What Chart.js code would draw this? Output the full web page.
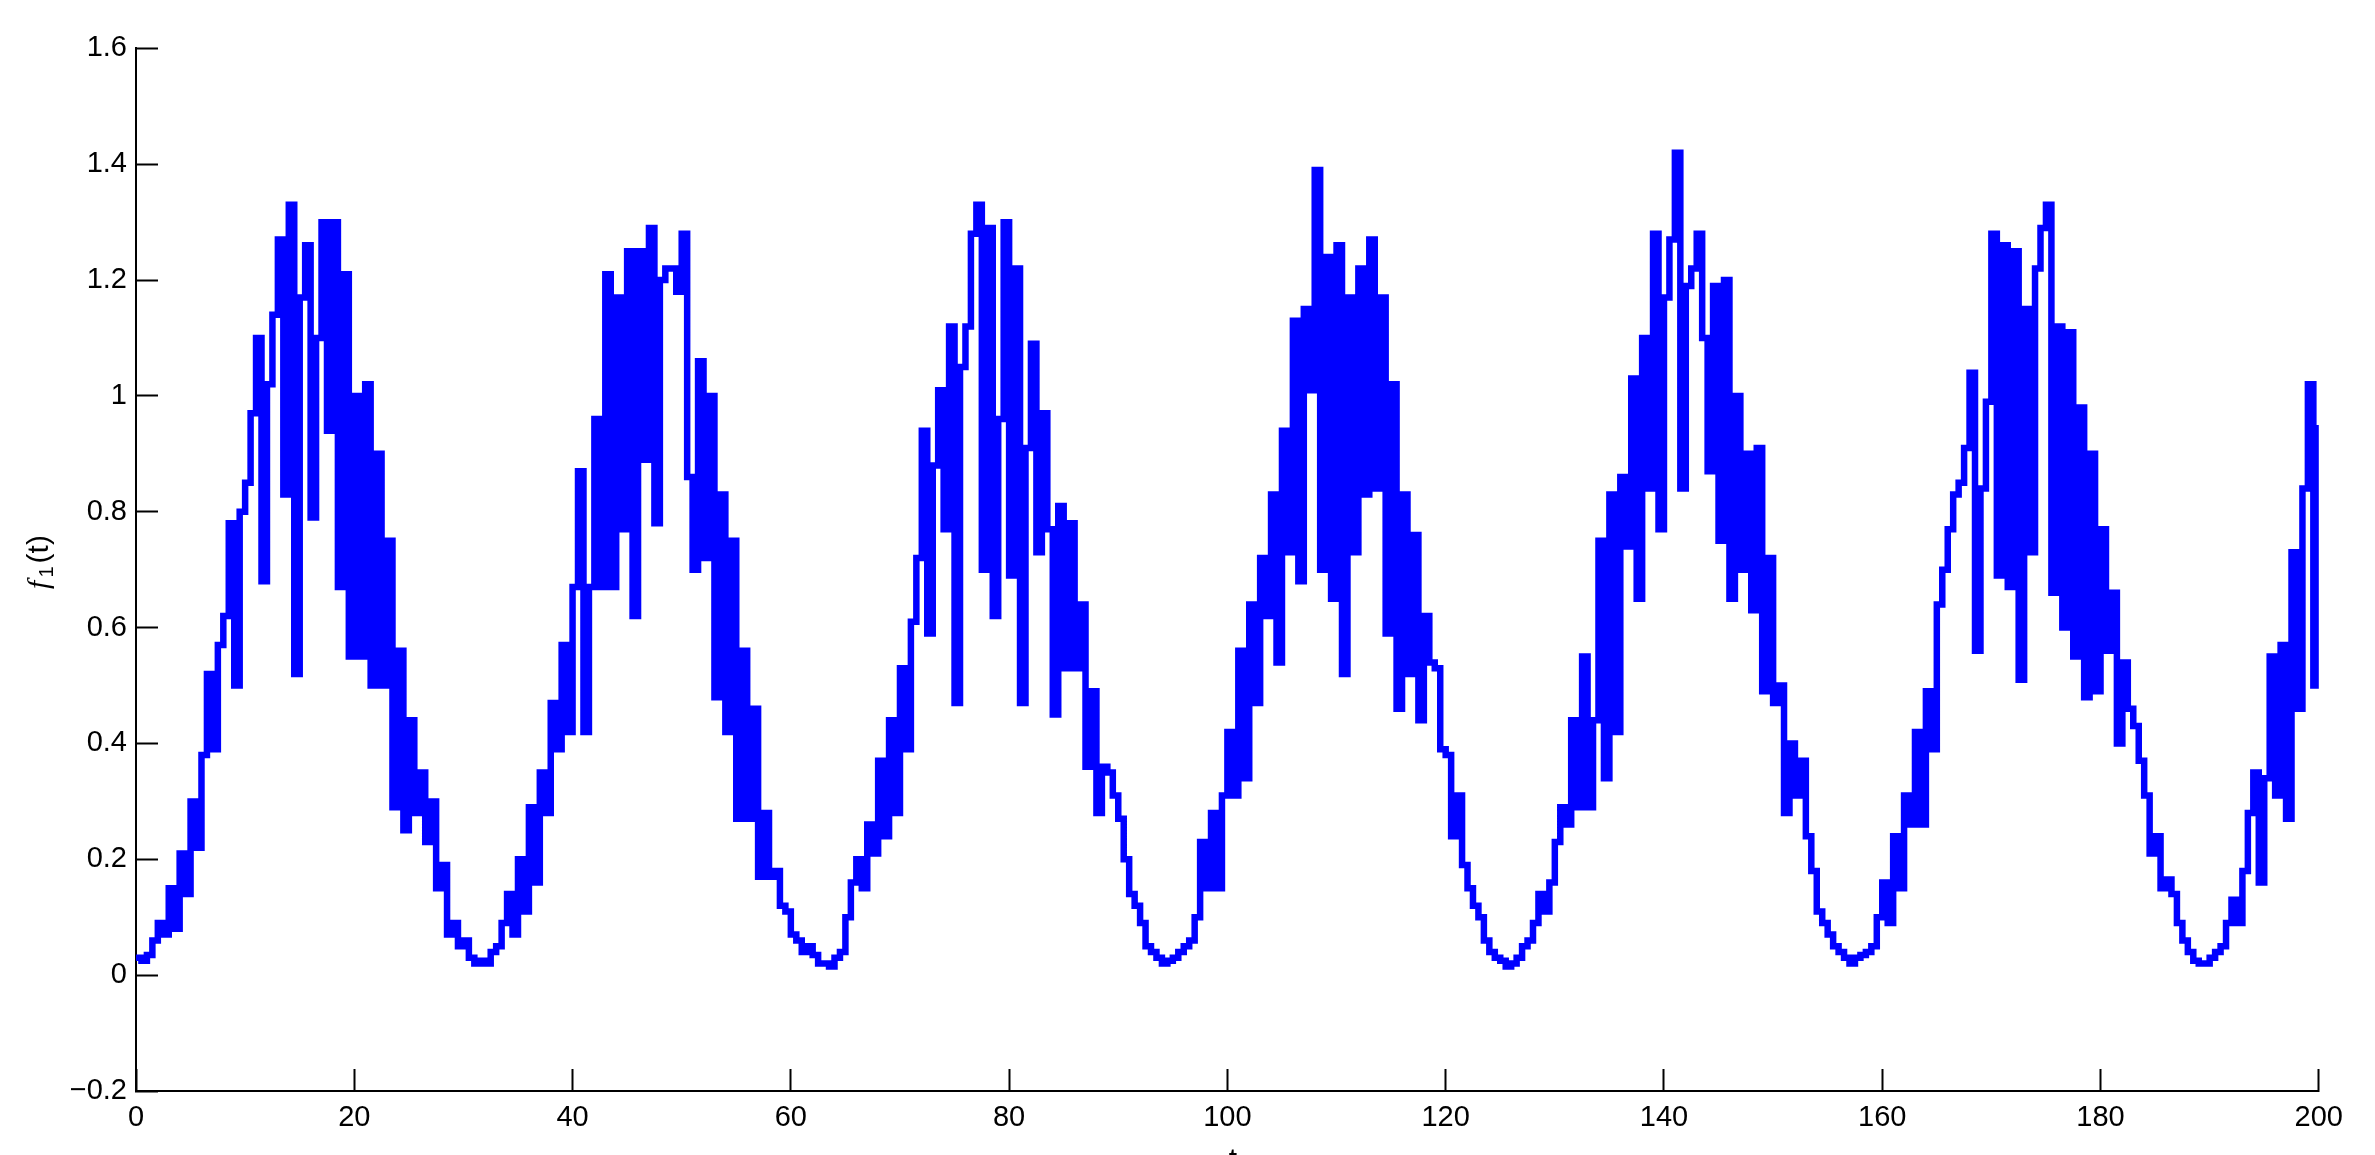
<!DOCTYPE html>
<html lang="en">
<head>
  <meta charset="UTF-8">
  <title>f1(t)</title>
  <script src="https://cdn.jsdelivr.net/npm/chart.js"></script>
  <style>
    html, body { margin: 0; padding: 0; background: #fff; }
    #wrap { width: 2375px; height: 1155px; position: relative; }
  </style>
</head>
<body>
  <div id="wrap"><canvas id="grafica"></canvas></div>

  <script>
    // f_1(t), one value every 0.5 in t (stairs)
    const tStep = 0.5;

    // t = 0 .. 33.5
    const seg1 = [0.03, 0.025, 0.035, 0.06, 0.09, 0.07, 0.15, 0.08, 0.21, 0.14,
                  0.30, 0.22, 0.38, 0.52, 0.39, 0.57, 0.62, 0.78, 0.50, 0.80,
                  0.85, 0.97, 1.10, 0.68, 1.02, 1.14, 1.27, 0.83, 1.33, 0.52,
                  1.17, 1.26, 0.79, 1.10, 1.30, 0.94, 1.30, 0.67, 1.21, 0.55,
                  1.00, 0.55, 1.02, 0.50, 0.90, 0.50, 0.75, 0.29, 0.56, 0.25,
                  0.44, 0.28, 0.35, 0.23, 0.30, 0.15, 0.19, 0.07, 0.09, 0.05,
                  0.06, 0.03, 0.02, 0.025, 0.02, 0.04, 0.05, 0.09];
    // t = 34 .. 67
    const seg2 = [0.14, 0.07, 0.20, 0.11, 0.29, 0.16, 0.35, 0.28, 0.47, 0.39,
                  0.57, 0.42, 0.67, 0.87, 0.42, 0.67, 0.96, 0.67, 1.21, 0.67,
                  1.17, 0.77, 1.25, 0.62, 1.25, 0.89, 1.29, 0.78, 1.20, 1.22,
                  1.22, 1.18, 1.28, 0.86, 0.70, 1.06, 0.72, 1.00, 0.48, 0.83,
                  0.42, 0.75, 0.27, 0.56, 0.27, 0.46, 0.17, 0.28, 0.17, 0.18,
                  0.12, 0.11, 0.07, 0.06, 0.04, 0.05, 0.035, 0.02, 0.02, 0.015,
                  0.03, 0.04, 0.10, 0.16, 0.20, 0.15, 0.26];
    // t = 67.5 .. 100
    const seg3 = [0.21, 0.37, 0.24, 0.44, 0.28, 0.53, 0.39, 0.61, 0.72, 0.94,
                  0.59, 0.88, 1.01, 0.77, 1.12, 0.47, 1.05, 1.12, 1.28, 1.33,
                  0.70, 1.29, 0.62, 0.96, 1.30, 0.69, 1.22, 0.47, 0.91, 1.09,
                  0.73, 0.97, 0.77, 0.45, 0.81, 0.53, 0.78, 0.53, 0.64, 0.36,
                  0.49, 0.28, 0.36, 0.35, 0.31, 0.27, 0.20, 0.14, 0.12, 0.09,
                  0.05, 0.04, 0.03, 0.02, 0.025, 0.03, 0.04, 0.05, 0.06, 0.10,
                  0.23, 0.15, 0.28, 0.15, 0.31, 0.42];
    // t = 100.5 .. 134.5
    const seg4 = [0.31, 0.56, 0.34, 0.64, 0.47, 0.72, 0.62, 0.83, 0.54, 0.94,
                  0.73, 1.13, 0.68, 1.15, 1.01, 1.39, 0.70, 1.24, 0.65, 1.26,
                  0.52, 1.17, 0.73, 1.22, 0.83, 1.27, 0.84, 1.17, 0.59, 1.02,
                  0.46, 0.83, 0.52, 0.76, 0.44, 0.62, 0.54, 0.53, 0.39, 0.38,
                  0.24, 0.31, 0.19, 0.15, 0.12, 0.10, 0.06, 0.04, 0.03, 0.025,
                  0.015, 0.02, 0.03, 0.05, 0.06, 0.09, 0.14, 0.11, 0.16, 0.23,
                  0.29, 0.26, 0.44, 0.29, 0.55, 0.29, 0.44, 0.75, 0.34];
    // t = 135 .. 168.5
    const seg5 = [0.83, 0.42, 0.86, 0.74, 1.03, 0.65, 1.10, 0.84, 1.28, 0.77,
                  1.17, 1.27, 1.42, 0.84, 1.19, 1.22, 1.28, 1.10, 0.87, 1.19,
                  0.75, 1.20, 0.65, 1.00, 0.70, 0.90, 0.63, 0.91, 0.49, 0.72,
                  0.47, 0.50, 0.28, 0.40, 0.31, 0.37, 0.24, 0.18, 0.11, 0.09,
                  0.07, 0.05, 0.04, 0.03, 0.02, 0.03, 0.035, 0.04, 0.05, 0.10,
                  0.16, 0.09, 0.24, 0.15, 0.31, 0.26, 0.42, 0.26, 0.49, 0.39,
                  0.64, 0.70, 0.77, 0.83, 0.85, 0.91, 1.04, 0.56];
    // t = 169 .. 200
    const seg6 = [0.84, 0.99, 1.28, 0.69, 1.26, 0.67, 1.25, 0.51, 1.15, 0.73,
                  1.22, 1.29, 1.33, 0.66, 1.12, 0.60, 1.11, 0.55, 0.98, 0.48,
                  0.90, 0.49, 0.77, 0.56, 0.66, 0.40, 0.54, 0.46, 0.43, 0.37,
                  0.31, 0.21, 0.24, 0.15, 0.165, 0.14, 0.09, 0.06, 0.04, 0.025,
                  0.02, 0.02, 0.03, 0.04, 0.05, 0.09, 0.13, 0.09, 0.18, 0.28,
                  0.35, 0.16, 0.34, 0.55, 0.31, 0.57, 0.27, 0.73, 0.46, 0.84,
                  1.02, 0.50, 0.95];

    const xTicks = [0, 20, 40, 60, 80, 100, 120, 140, 160, 180, 200];
    const yTicks = [-0.2, 0, 0.2, 0.4, 0.6, 0.8, 1, 1.2, 1.4, 1.6];
    const yTickLabels = ['\u22120.2', '0', '0.2', '0.4', '0.6', '0.8', '1', '1.2', '1.4', '1.6'];

    const f1 = [].concat(seg1, seg2, seg3, seg4, seg5, seg6);
    const puntos = f1.map(function (v, i) { return { x: i * tStep, y: v }; });

    const tickFont = { family: 'Liberation Sans', size: 29 };

    // axis titles: f_1(t) on the left, t at the bottom (cut by the edge)
    const axisLabels = {
      id: 'axisLabels',
      afterDraw: function (chart) {
        const ctx = chart.ctx;
        ctx.save();
        ctx.fillStyle = '#000';
        ctx.textBaseline = 'middle';
        ctx.textAlign = 'left';
        const parts = [
          { t: 'f', font: 'italic 30px "Liberation Serif"', dy: 0 },
          { t: '1', font: '20px "Liberation Sans"', dy: 7 },
          { t: '(t)', font: '30px "Liberation Sans"', dy: 0 }
        ];
        const gap = 3;
        let total = 0;
        parts.forEach(function (p) { ctx.font = p.font; p.w = ctx.measureText(p.t).width; total += p.w; });
        total += gap * (parts.length - 1);
        ctx.translate(40, 562);
        ctx.rotate(-Math.PI / 2);
        let x = -total / 2;
        parts.forEach(function (p) { ctx.font = p.font; ctx.fillText(p.t, x, p.dy); x += p.w + gap; });
        ctx.restore();

        ctx.save();
        ctx.fillStyle = '#000';
        ctx.font = '30px "Liberation Sans"';
        ctx.textAlign = 'center';
        ctx.textBaseline = 'alphabetic';
        ctx.fillText('t', 1233, 1169);
        ctx.restore();
      }
    };

    new Chart(document.getElementById('grafica'), {
      type: 'line',
      data: {
        datasets: [{
          label: 'f1(t)',
          data: puntos,
          borderColor: '#0000ff',
          backgroundColor: '#0000ff',
          borderWidth: 6.5,
          borderJoinStyle: 'miter',
          pointRadius: 0,
          stepped: true,
          tension: 0,
          fill: false
        }]
      },
      options: {
        responsive: true,
        maintainAspectRatio: false,
        animation: false,
        layout: { padding: { top: 32, right: 46, left: 0, bottom: 0 } },
        plugins: { legend: { display: false }, tooltip: { enabled: false } },
        scales: {
          x: {
            type: 'linear',
            min: 0,
            max: 200,
            afterBuildTicks: function (s) { s.ticks = xTicks.map(function (v) { return { value: v }; }); },
            afterFit: function (s) { s.height = 64; },
            grid: { drawOnChartArea: false, tickLength: -22, tickColor: '#000', tickWidth: 2 },
            border: { color: '#000', width: 2 },
            ticks: {
              padding: 32,
              color: '#000',
              font: tickFont,
              maxRotation: 0,
              autoSkip: false,
              callback: function (v) { return String(v); }
            }
          },
          y: {
            type: 'linear',
            min: -0.2,
            max: 1.6,
            afterBuildTicks: function (s) { s.ticks = yTicks.map(function (v) { return { value: v }; }); },
            afterFit: function (s) { s.width = 136; },
            grid: { drawOnChartArea: false, tickLength: -22, tickColor: '#000', tickWidth: 2 },
            border: { color: '#000', width: 2 },
            ticks: {
              padding: 31,
              color: '#000',
              font: tickFont,
              autoSkip: false,
              callback: function (v, i) { return yTickLabels[i]; }
            }
          }
        }
      },
      plugins: [axisLabels]
    });
  </script>
</body>
</html>
